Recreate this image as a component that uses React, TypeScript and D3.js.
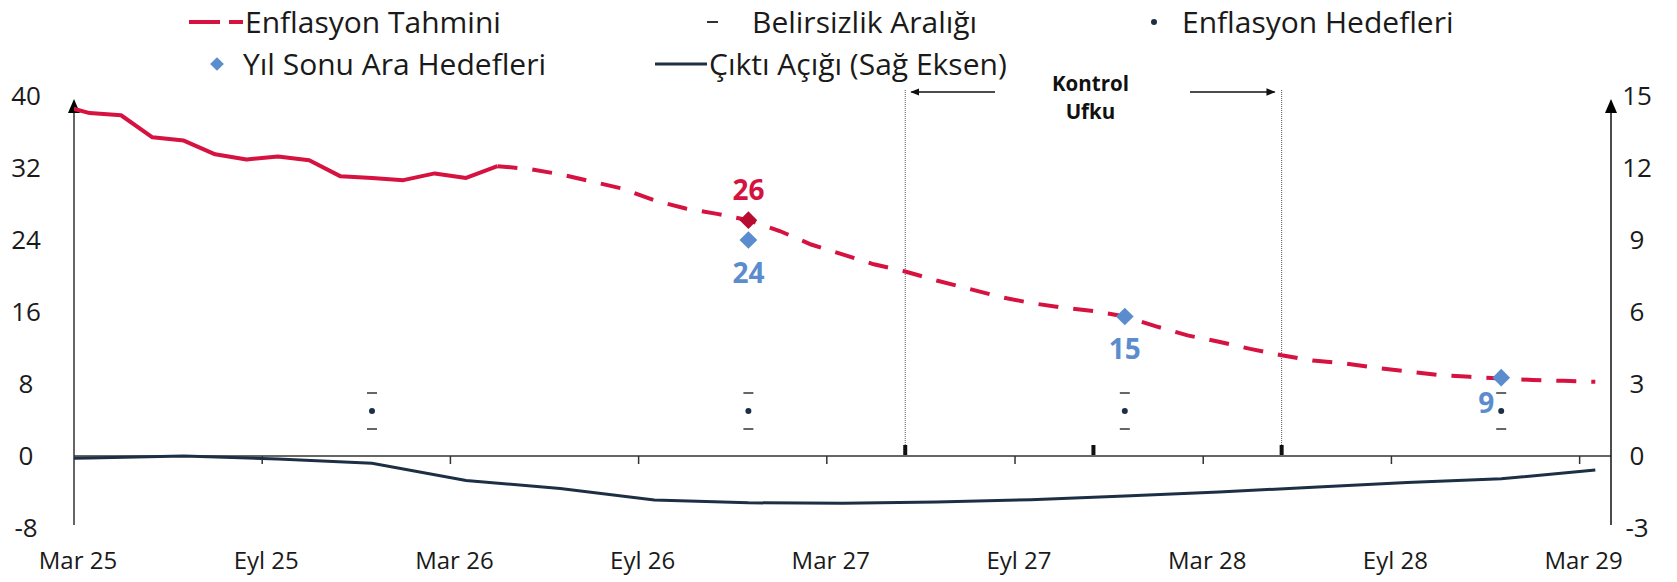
import React, { useEffect } from "react";
import * as d3 from "d3";

const W = 1677;
const H = 582;

// month index: 0 = Mar 25, monthly values sit mid-month (index + 0.5)
const tickMonths = [0, 6, 12, 18, 24, 30, 36, 42, 48];
const tickLabels = ["Mar 25", "Eyl 25", "Mar 26", "Eyl 26", "Mar 27", "Eyl 27", "Mar 28", "Eyl 28", "Mar 29"];
const leftTicks = [-8, 0, 8, 16, 24, 32, 40];
const rightTicks = [-3, 0, 3, 6, 9, 12, 15];

// realised inflation, Feb 25 .. Apr 26
const actualStart = -1;
const actual = [39.05, 38.1, 37.86, 35.41, 35.05, 33.52, 32.95, 33.29, 32.87, 31.07, 30.89, 30.65, 31.4, 30.9, 32.2];

// forecast, Apr 26 .. Mar 29
const forecastStart = 13;
const forecast = [
  32.2, 31.9, 31.3, 30.5, 29.7, 28.4, 27.5, 26.9, 26.2, 25.0, 23.5, 22.4,
  21.3, 20.5, 19.5, 18.6, 17.7, 17.0, 16.5, 16.1, 15.5, 14.4, 13.4, 12.7,
  11.9, 11.2, 10.6, 10.3, 9.8, 9.4, 9.0, 8.8, 8.6, 8.45, 8.35, 8.25,
];

// output gap (right axis), quarterly Dec 24 .. Mar 29
const gapMonths = [-3, 0, 3, 6, 9, 12, 15, 18, 21, 24, 27, 30, 33, 36, 39, 42, 45, 48];
const gapValues = [-0.15, -0.08, 0.0, -0.12, -0.3, -1.02, -1.35, -1.83, -1.95, -1.97, -1.92, -1.82, -1.67, -1.5, -1.3, -1.1, -0.95, -0.58];

// year-end targets and uncertainty band
const targetMonths = [9, 21, 33, 45];
const targets = [5, 5, 5, 5];
const bandHigh = [7, 7, 7, 7];
const bandLow = [3, 3, 3, 3];

// year-end interim targets
const interimMonths = [21, 33, 45];
const interim = [24, 15.5, 8.7];
const interimLabels = ["24", "15", "9"];

const markMonth = 21;
const markValue = 26.2;
const markLabel = "26";

// control horizon: start, middle, end
const horizonMonths = [26, 32, 38];

const RED = "#d51240";
const BLUE = "#5b8ccd";
const NAVY = "#1d2f45";
const FONT = "'Open Sans', sans-serif";

export default function App() {
  useEffect(() => {
    document.body.style.margin = "0";
  }, []);

  const x = d3.scaleLinear().domain([0, 49]).range([74, 1611]);
  const yL = d3.scaleLinear().domain([-8, 40]).range([528, 96]);
  const yR = d3.scaleLinear().domain([-3, 15]).range([528, 96]);
  const mx = (m: number) => x(m + 0.5);

  const lineL = d3.line<[number, number]>().x((d) => mx(d[0])).y((d) => yL(d[1]));
  const lineR = d3.line<[number, number]>().x((d) => mx(d[0])).y((d) => yR(d[1]));

  const actualPts = actual.map((v, i) => [actualStart + i, v] as [number, number]);
  const forecastPts = forecast.map((v, i) => [forecastStart + i, v] as [number, number]);
  const gapPts = gapValues.map((v, i) => [gapMonths[i], v] as [number, number]);

  const x0 = x(0);
  const x1 = x(49);
  const y0 = yL(0);
  const diamond = d3.symbol().type(d3.symbolDiamond2).size(200)();
  const smallDiamond = d3.symbol().type(d3.symbolDiamond2).size(120)();
  const hx = mx(horizonMonths[1]) - 3;

  return (
    <svg width={W} height={H} style={{ display: "block", fontFamily: FONT }}>
      <defs>
        <clipPath id="plot">
          <rect x={x0} y={80} width={x1 - x0} height={460} />
        </clipPath>
        <marker id="arr" viewBox="0 0 10 10" refX={9} refY={5} markerWidth={7} markerHeight={7} orient="auto">
          <path d="M0,1 L10,5 L0,9 z" fill="#111" />
        </marker>
      </defs>

      {/* legend */}
      <g fontSize={30} fill="#1a1a1a">
        <line x1={189} x2={243} y1={22} y2={22} stroke={RED} strokeWidth={4} strokeDasharray="31 9 14" />
        <text x={245} y={22} dy="0.35em">Enflasyon Tahmini</text>
        <line x1={707} x2={718} y1={22} y2={22} stroke="#333" strokeWidth={2} />
        <text x={752} y={22} dy="0.35em">Belirsizlik Aralığı</text>
        <circle cx={1154} cy={22} r={3} fill={NAVY} />
        <text x={1182} y={22} dy="0.35em">Enflasyon Hedefleri</text>
        <path d={smallDiamond} transform="translate(217,64)" fill={BLUE} />
        <text x={243} y={64} dy="0.35em">Yıl Sonu Ara Hedefleri</text>
        <line x1={655} x2={707} y1={64} y2={64} stroke={NAVY} strokeWidth={3} />
        <text x={709} y={64} dy="0.35em">Çıktı Açığı (Sağ Eksen)</text>
      </g>

      {/* control horizon */}
      {[horizonMonths[0], horizonMonths[2]].map((m) => (
        <line key={m} x1={mx(m)} x2={mx(m)} y1={90} y2={y0 - 2} stroke="#555" strokeWidth={1} strokeDasharray="1 1" />
      ))}
      {horizonMonths.map((m) => (
        <rect key={"t" + m} x={mx(m) - 2} y={y0 - 11} width={4} height={10} fill="#111" />
      ))}
      <line x1={995} x2={mx(horizonMonths[0]) + 6} y1={92} y2={92} stroke="#111" strokeWidth={1.3} markerEnd="url(#arr)" />
      <line x1={1190} x2={mx(horizonMonths[2]) - 7} y1={92} y2={92} stroke="#111" strokeWidth={1.3} markerEnd="url(#arr)" />
      <g fontSize={20.5} fontWeight={700} textAnchor="middle" fill="#111">
        <text x={hx} y={84} dy="0.35em">Kontrol</text>
        <text x={hx} y={112} dy="0.35em">Ufku</text>
      </g>

      {/* zero line and x ticks */}
      <line x1={x0} x2={x1} y1={y0} y2={y0} stroke="#333" strokeWidth={1.5} />
      {tickMonths.map((m, i) => (
        <g key={m}>
          {i > 0 && <line x1={x(m)} x2={x(m)} y1={y0} y2={y0 + 8} stroke="#333" strokeWidth={1.5} />}
          <text x={x(m) + 4} y={561} dy="0.35em" textAnchor="middle" fontSize={24} fill="#1a1a1a">
            {tickLabels[i]}
          </text>
        </g>
      ))}

      {/* axes */}
      <line x1={x0} x2={x0} y1={yL(-8) - 3} y2={104} stroke="#333" strokeWidth={1.5} />
      <path d={`M${x0},${99} L${x0 - 6},${113} L${x0 + 6},${113} z`} fill="#000" />
      <line x1={x1} x2={x1} y1={yR(-3) - 3} y2={104} stroke="#111" strokeWidth={1.5} />
      <path d={`M${x1},${99} L${x1 - 6},${113} L${x1 + 6},${113} z`} fill="#000" />
      <g fontSize={26} fill="#1a1a1a" textAnchor="middle">
        {leftTicks.map((t) => (
          <text key={t} x={26} y={yL(t)} dy="0.35em">{t}</text>
        ))}
        {rightTicks.map((t) => (
          <text key={t} x={1637} y={yR(t)} dy="0.35em">{t}</text>
        ))}
      </g>

      {/* series */}
      <g clipPath="url(#plot)">
        <path d={lineR(gapPts) || ""} fill="none" stroke={NAVY} strokeWidth={3} />
        <path d={lineL(actualPts) || ""} fill="none" stroke={RED} strokeWidth={4} strokeLinejoin="round" />
        <path d={lineL(forecastPts) || ""} fill="none" stroke={RED} strokeWidth={4} strokeDasharray="20 15" />
      </g>

      {/* targets and uncertainty band */}
      {targetMonths.map((m, i) => (
        <g key={m}>
          <line x1={mx(m) - 5} x2={mx(m) + 5} y1={yL(bandHigh[i])} y2={yL(bandHigh[i])} stroke="#333" strokeWidth={1.5} />
          <line x1={mx(m) - 5} x2={mx(m) + 5} y1={yL(bandLow[i])} y2={yL(bandLow[i])} stroke="#333" strokeWidth={1.5} />
          <circle cx={mx(m)} cy={yL(targets[i])} r={3} fill={NAVY} />
        </g>
      ))}

      {/* interim targets */}
      {interimMonths.map((m, i) => {
        const last = i === interimMonths.length - 1;
        return (
          <g key={m}>
            <path d={diamond} transform={`translate(${mx(m)},${yL(interim[i])})`} fill={BLUE} />
            <text
              x={last ? mx(m) - 15 : mx(m)}
              y={last ? yL(interim[i]) + 25 : yL(interim[i]) + 33}
              dy="0.35em"
              textAnchor="middle"
              fontSize={28}
              fontWeight={700}
              fill={BLUE}
            >
              {interimLabels[i]}
            </text>
          </g>
        );
      })}

      {/* forecast marker */}
      <path d={diamond} transform={`translate(${mx(markMonth)},${yL(markValue)})`} fill="#b80b30" />
      <text x={mx(markMonth)} y={yL(markValue) - 30} dy="0.35em" textAnchor="middle" fontSize={28} fontWeight={700} fill={RED}>
        {markLabel}
      </text>
    </svg>
  );
}
